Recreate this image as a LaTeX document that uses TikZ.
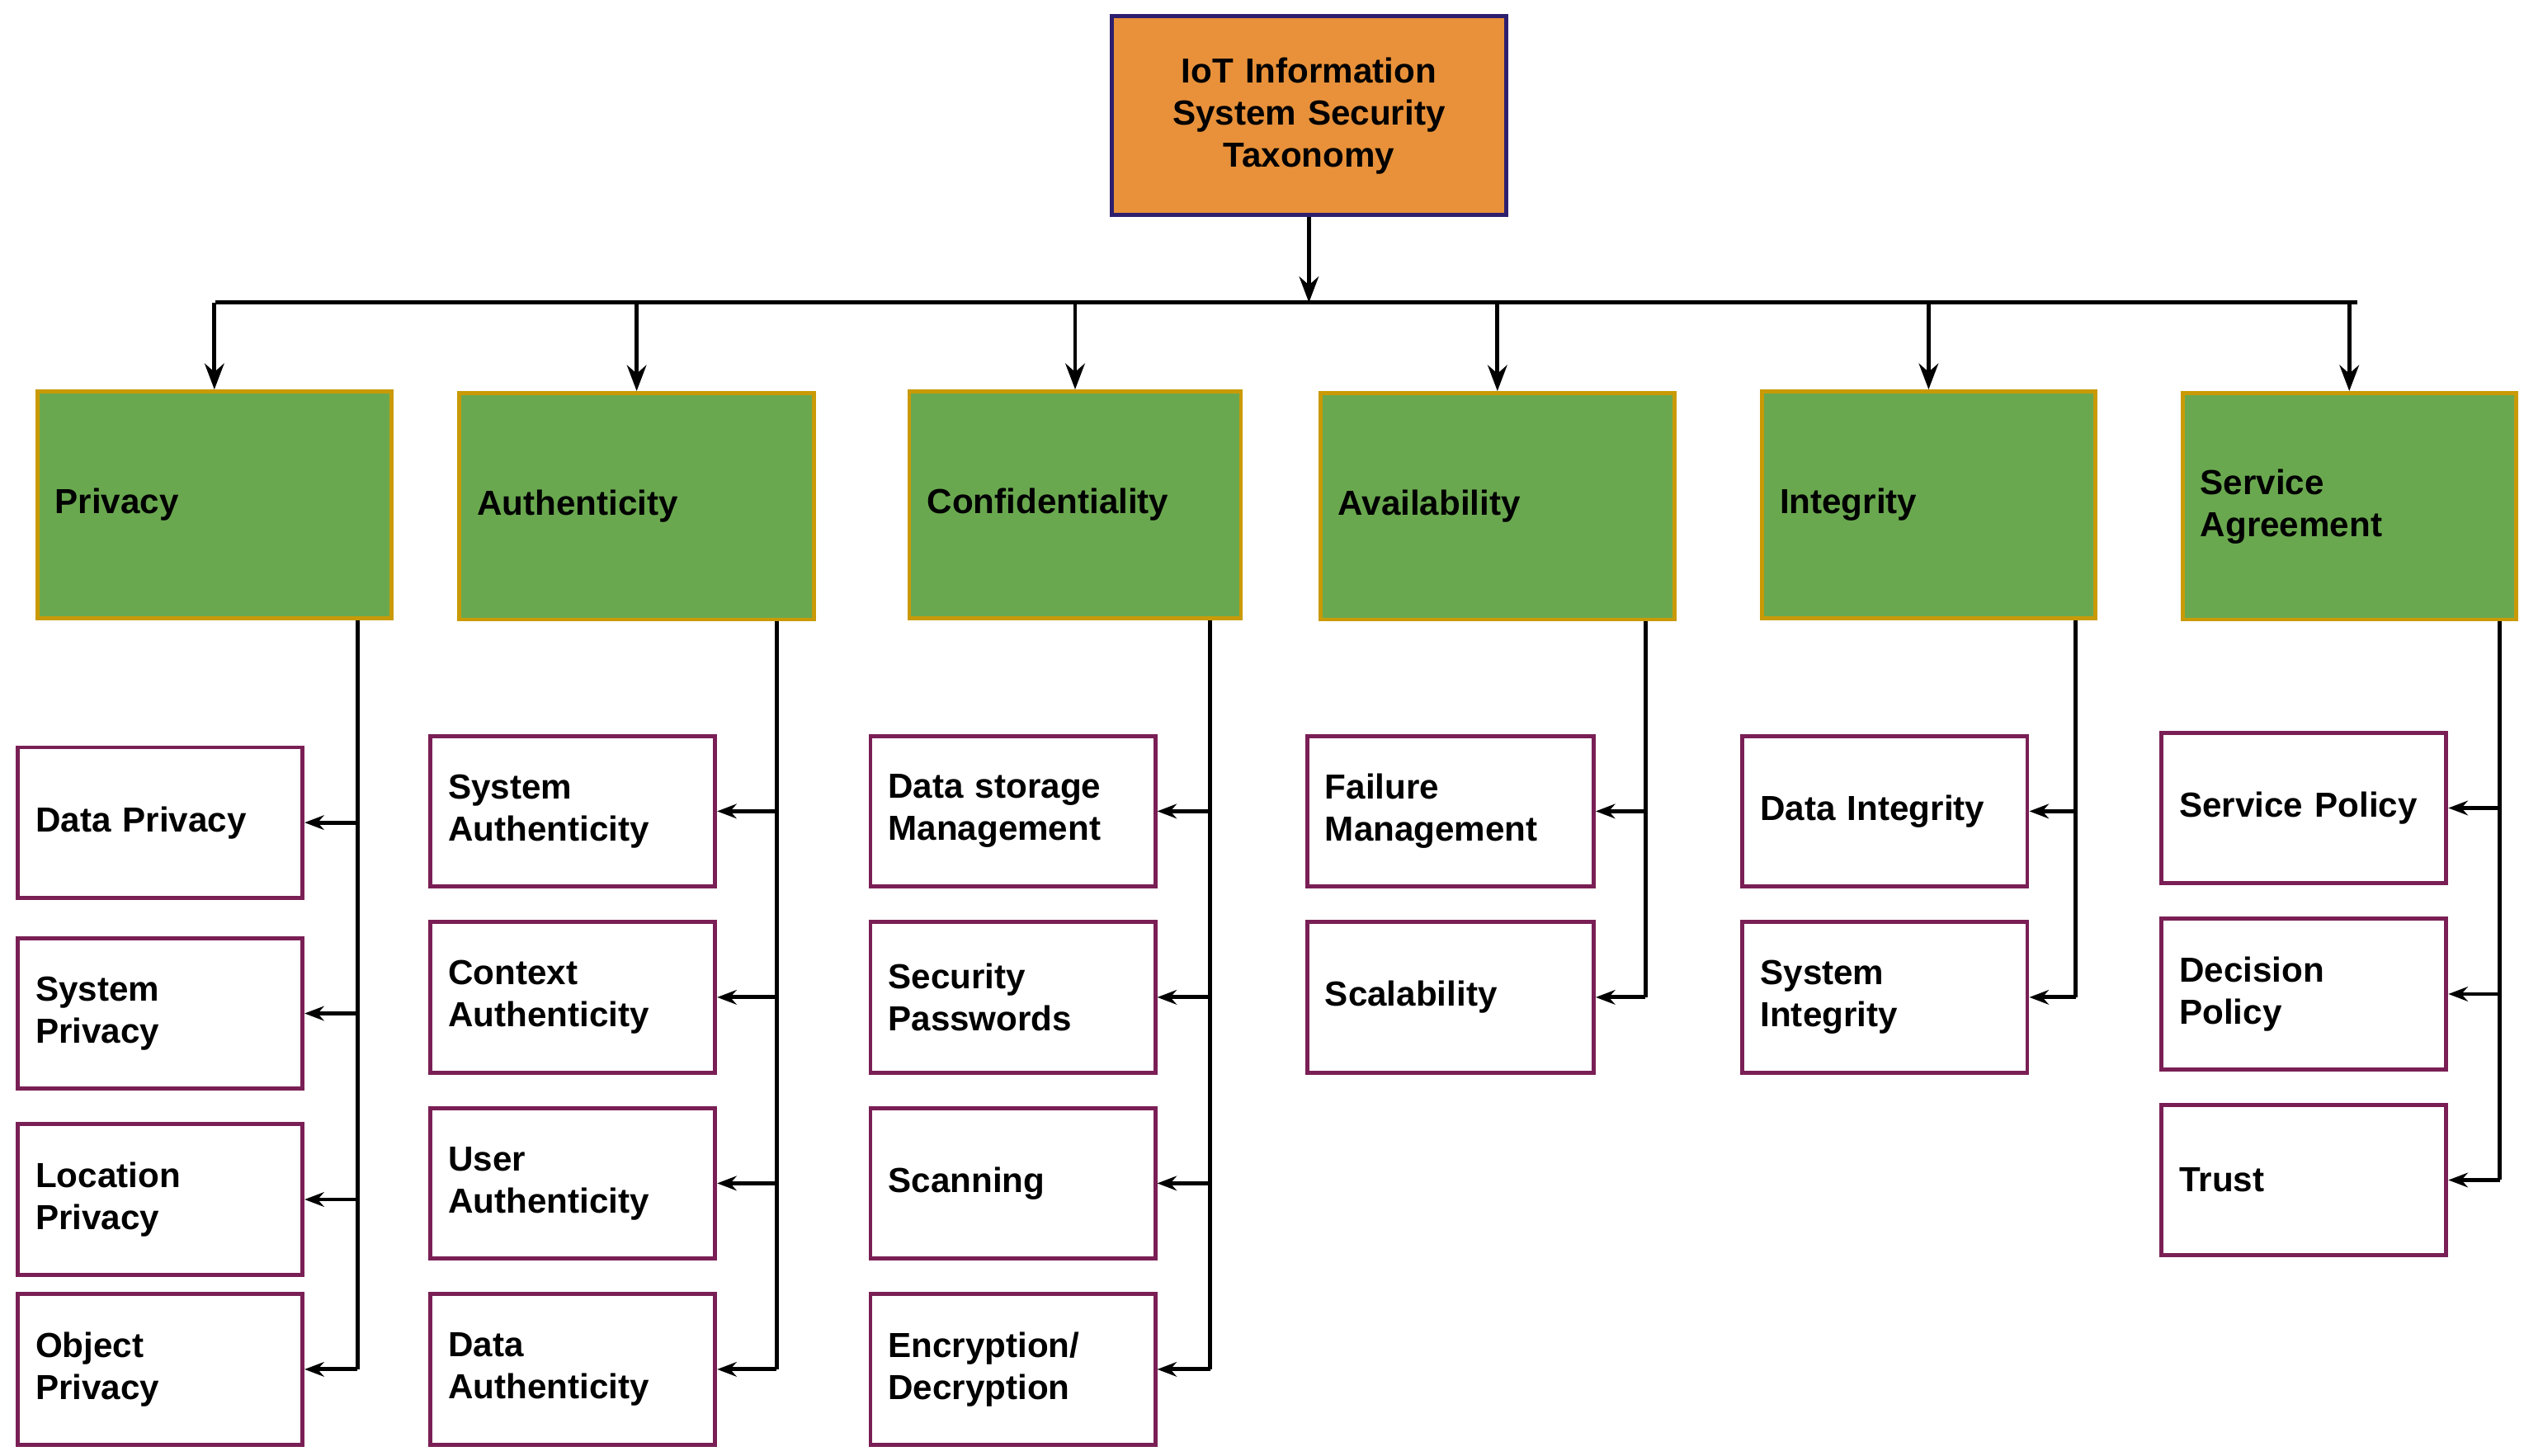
\documentclass[tikz,border=0pt]{standalone}
\usepackage{fontspec}
\setmainfont{Liberation Sans}
\usetikzlibrary{arrows.meta}
\definecolor{org}{HTML}{E8913A}
\definecolor{orgb}{HTML}{2E1F6E}
\definecolor{grn}{HTML}{6AA84F}
\definecolor{grnb}{HTML}{C99A06}
\definecolor{leafb}{HTML}{7A1F55}
\newcommand\bx[7]{\pgfmathsetmacro\tw{#4-#2-22}\node[#7, minimum width={#4-#2}, text width=\tw pt, minimum height={#5-#3}] (#1) at ({(#2+#4)/2},{(#3+#5)/2}) {#6};}
\begin{document}
\begin{tikzpicture}[x=1pt,y=-1pt,
  base/.style={draw, line width=2.5pt, inner xsep=11pt, inner ysep=0pt, font=\bfseries\fontsize{21.5}{26}\selectfont, align=left},
  root/.style={base, fill=org, draw=orgb, align=center},
  cat/.style={base, fill=grn, draw=grnb},
  leaf/.style={base, fill=white, draw=leafb},
  con/.style={line width=2.5pt},
  arr/.style={con, -{Stealth[length=16pt,width=12pt]}},
  sarr/.style={con, -{Stealth[length=12pt,width=9pt]}}]
\useasboundingbox (0,0) rectangle (1560,900);
\bx{root}{687}{10}{931}{133}{IoT Information\\System Security\\Taxonomy}{root}
\bx{c1}{23}{242}{242}{382}{Privacy}{cat}
\bx{c2}{284}{243}{503}{383}{Authenticity}{cat}
\bx{c3}{562}{242}{767}{382}{Confidentiality}{cat}
\bx{c4}{816}{243}{1035}{383}{Availability}{cat}
\bx{c5}{1089}{242}{1295}{382}{Integrity}{cat}
\bx{c6}{1349}{243}{1555}{383}{Service\\Agreement}{cat}
% leaves
\bx{p1}{11}{462}{187}{555}{Data Privacy}{leaf}
\bx{p2}{11}{580}{187}{673}{System\\Privacy}{leaf}
\bx{p3}{11}{695}{187}{788}{Location\\Privacy}{leaf}
\bx{p4}{11}{800}{187}{893}{Object\\Privacy}{leaf}
\bx{a1}{266}{455}{442}{548}{System\\Authenticity}{leaf}
\bx{a2}{266}{570}{442}{663}{Context\\Authenticity}{leaf}
\bx{a3}{266}{685}{442}{778}{User\\Authenticity}{leaf}
\bx{a4}{266}{800}{442}{893}{Data\\Authenticity}{leaf}
\bx{f1}{538}{455}{714}{548}{Data storage\\Management}{leaf}
\bx{f2}{538}{570}{714}{663}{Security\\Passwords}{leaf}
\bx{f3}{538}{685}{714}{778}{Scanning}{leaf}
\bx{f4}{538}{800}{714}{893}{Encryption/\\Decryption}{leaf}
\bx{v1}{808}{455}{985}{548}{Failure\\Management}{leaf}
\bx{v2}{808}{570}{985}{663}{Scalability}{leaf}
\bx{i1}{1077}{455}{1253}{548}{Data Integrity}{leaf}
\bx{i2}{1077}{570}{1253}{663}{System\\Integrity}{leaf}
\bx{s1}{1336}{453}{1512}{546}{Service Policy}{leaf}
\bx{s2}{1336}{568}{1512}{661}{Decision\\Policy}{leaf}
\bx{s3}{1336}{683}{1512}{776}{Trust}{leaf}
% bus
\coordinate (bus) at (809,187);
\coordinate (bl) at (133,187);
\coordinate (br) at (1457,187);
\draw[arr] (root.south) -- (bus);
\draw[con] (bl) -- (br);
\foreach \c in {c1,c2,c3,c4,c5,c6}{\draw[arr] (\c.north |- bus) -- (\c.north);}
% spines
\coordinate (k1) at (221,0);\coordinate (k2) at (480,0);\coordinate (k3) at (748,0);
\coordinate (k4) at (1017,0);\coordinate (k5) at (1283,0);\coordinate (k6) at (1545,0);
\draw[con] (c1.south -| k1) -- (p4.east -| k1);
\foreach \n in {p1,p2,p3,p4}{\draw[sarr] (\n.east -| k1) -- (\n.east);}
\draw[con] (c2.south -| k2) -- (a4.east -| k2);
\foreach \n in {a1,a2,a3,a4}{\draw[sarr] (\n.east -| k2) -- (\n.east);}
\draw[con] (c3.south -| k3) -- (f4.east -| k3);
\foreach \n in {f1,f2,f3,f4}{\draw[sarr] (\n.east -| k3) -- (\n.east);}
\draw[con] (c4.south -| k4) -- (v2.east -| k4);
\foreach \n in {v1,v2}{\draw[sarr] (\n.east -| k4) -- (\n.east);}
\draw[con] (c5.south -| k5) -- (i2.east -| k5);
\foreach \n in {i1,i2}{\draw[sarr] (\n.east -| k5) -- (\n.east);}
\draw[con] (c6.south -| k6) -- (s3.east -| k6);
\foreach \n in {s1,s2,s3}{\draw[sarr] (\n.east -| k6) -- (\n.east);}
\end{tikzpicture}
\end{document}
